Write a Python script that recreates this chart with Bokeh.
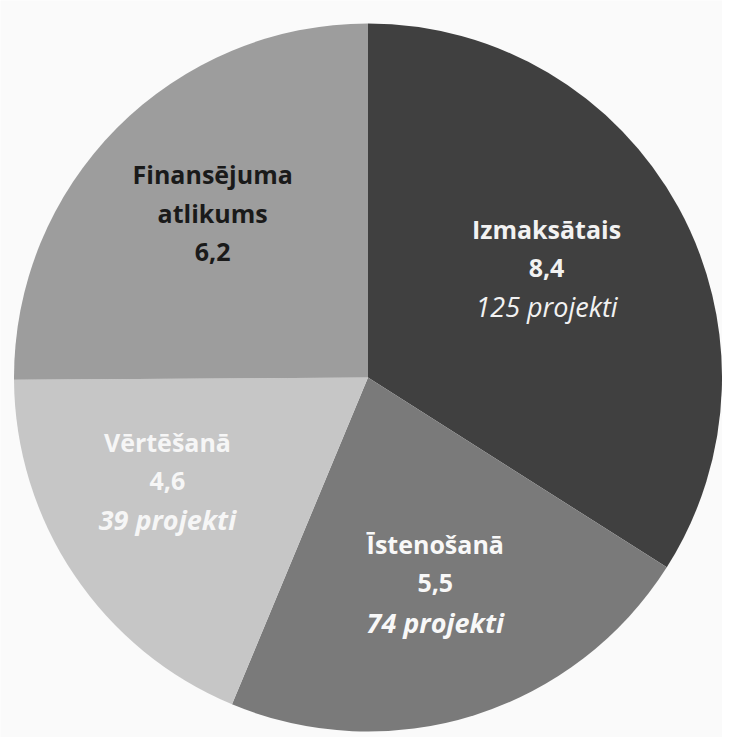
import math
from bokeh.plotting import figure
from bokeh.models import Range1d, ColumnDataSource
from bokeh.core.properties import value
from bokeh.embed import file_html
from bokeh.resources import INLINE

# Data
categories = ["Izmaksātais", "Īstenošanā", "Vērtēšanā", "Finansējuma atlikums"]
label_names = [["Izmaksātais"], ["Īstenošanā"], ["Vērtēšanā"], ["Finansējuma", "atlikums"]]
values = [8.4, 5.5, 4.6, 6.2]
value_labels = ["8,4", "5,5", "4,6", "6,2"]
project_labels = ["125 projekti", "74 projekti", "39 projekti", ""]

# Styles
colors = ["#404040", "#7a7a7a", "#c6c6c6", "#9d9d9d"]
text_colors = ["#f2f2f2", "#f8f8f8", "#f6f6f6", "#1a1a1a"]
proj_styles = ["italic", "bold italic", "bold italic", "italic"]
label_r = [0.592, 0.612, 0.637, 0.640]       # fraction of radius
label_dtheta = [2.8, 0.6, -6.7, -1.9]        # degrees tweak from mid-angle

W, H = 722, 737
CX, CY, R = 367.5, 360, 354  # pixel-space geometry of the pie
LINE = 39
FS = "25px"
FS_PROJ = "27px"

p = figure(width=W, height=H, output_backend="svg", toolbar_location=None,
           x_range=Range1d(0, W), y_range=Range1d(0, H), min_border=0)
p.axis.visible = False
p.grid.visible = False
p.outline_line_color = None
p.background_fill_color = "#fafafa"
p.border_fill_color = "#fafafa"

total = sum(values)
starts, ends, mids = [], [], []
acc = 0.0
for v in values:
    a0 = 90 - acc / total * 360
    acc += v
    a1 = 90 - acc / total * 360
    starts.append(math.radians(a0))
    ends.append(math.radians(a1))
    mids.append((a0 + a1) / 2)

src = ColumnDataSource(dict(start=starts, end=ends, color=colors, cat=categories))
p.wedge(x=CX, y=CY, radius=R, start_angle="start", end_angle="end",
        direction="clock", fill_color="color", line_color=None, source=src)

for i in range(len(values)):
    ang = math.radians(mids[i] + label_dtheta[i])
    lx = CX + R * label_r[i] * math.cos(ang)
    ly = CY + R * label_r[i] * math.sin(ang)
    lines = [(t, "bold", FS) for t in label_names[i]] + [(value_labels[i], "bold", FS)]
    if project_labels[i]:
        lines.append((project_labels[i], proj_styles[i], FS_PROJ))
    n = len(lines)
    for j, (t, st, fs) in enumerate(lines):
        yy = ly + (n - 1) / 2 * LINE - j * LINE
        p.text(x=[lx], y=[yy], text=[t], text_align="center", text_baseline="middle",
               text_font=value("Open Sans"), text_font_size=fs, text_font_style=st,
               text_color=text_colors[i])

open("out.html", "w").write(file_html(p, INLINE))
